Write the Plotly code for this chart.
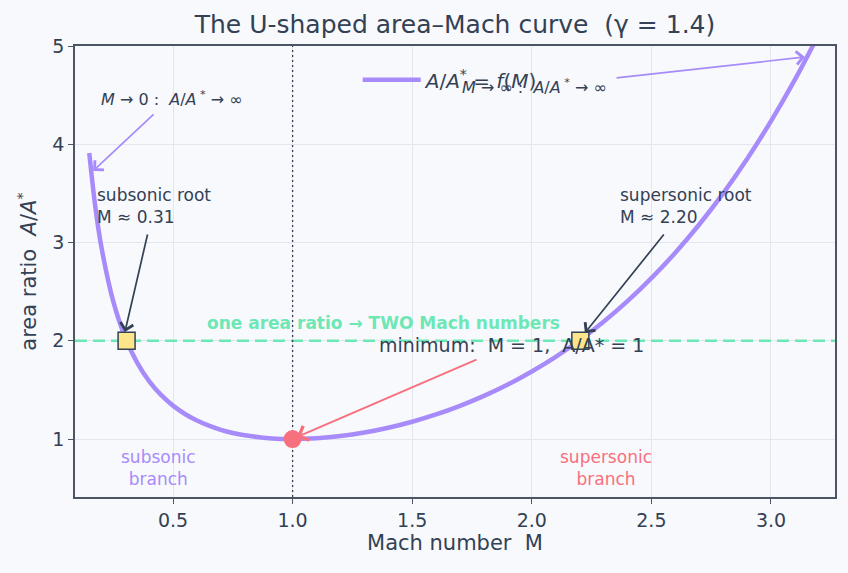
import plotly.graph_objects as go

# Mach numbers and area ratios (gamma = 1.4) read/tabulated along the curve
mach = [0.15, 0.175, 0.2, 0.25, 0.3, 0.35, 0.4, 0.45, 0.5, 0.55, 0.6, 0.65, 0.7, 0.75, 0.8, 0.9,
        1.0, 1.1, 1.2, 1.3, 1.4, 1.5, 1.6, 1.7, 1.8, 1.9, 2.0, 2.1, 2.2, 2.3, 2.4, 2.5,
        2.6, 2.7, 2.8, 2.9, 3.0, 3.1, 3.2]
area_ratio = [3.910, 3.368, 2.964, 2.403, 2.035, 1.778, 1.590, 1.449, 1.340, 1.255, 1.188, 1.136,
              1.094, 1.062, 1.038, 1.009, 1.000, 1.008, 1.030, 1.066, 1.115, 1.176, 1.250,
              1.338, 1.439, 1.555, 1.688, 1.837, 2.005, 2.193, 2.403, 2.637, 2.896, 3.183,
              3.500, 3.850, 4.235, 4.657, 5.121]

target_ratio = 2.0
roots_M = [0.306, 2.203]
min_M, min_ratio = 1.0, 1.0

x_ticks = [0.5, 1.0, 1.5, 2.0, 2.5, 3.0]
y_ticks = [1, 2, 3, 4, 5]

DARK = "#334155"
PURPLE = "#a78bfa"
GREEN = "#6ee7b7"
ROSE = "#f7707e"
BG = "#f8f9fc"
FONT = "DejaVu Sans"

xr = [0.0903, 3.2676]
yr = [0.41, 5.0]

fig = go.Figure()

# reference lines drawn as traces so they sit above the grid
fig.add_trace(go.Scatter(x=xr, y=[target_ratio] * 2, mode="lines", showlegend=False,
                         line=dict(color=GREEN, width=2.5, dash="12px,6px"), hoverinfo="skip"))
fig.add_trace(go.Scatter(x=[min_M, min_M], y=yr, mode="lines", showlegend=False,
                         line=dict(color=DARK, width=1.3, dash="2px,3px"), hoverinfo="skip"))

fig.add_trace(go.Scatter(
    x=mach, y=area_ratio, mode="lines", line=dict(color=PURPLE, width=4.5, shape="spline"),
    name="<i>A</i>/<i>A</i><sup>*</sup> = <i>f</i>(<i>M</i>)", showlegend=True))

fig.add_trace(go.Scatter(
    x=roots_M, y=[target_ratio] * 2, mode="markers",
    marker=dict(symbol="square", size=17, color="#fde68a", line=dict(color=DARK, width=1.5)),
    showlegend=False))

fig.add_trace(go.Scatter(
    x=[min_M], y=[min_ratio], mode="markers",
    marker=dict(size=18, color=ROSE), showlegend=False))


def arrow(x, y, ax, ay, color, width=1.7):
    fig.add_annotation(x=x, y=y, ax=ax, ay=ay, xref="x", yref="y", axref="x", ayref="y",
                       text="", showarrow=True, arrowhead=4, arrowsize=1.5,
                       arrowwidth=width, arrowcolor=color)


def label(x, y, text, size=13, color=DARK, xanchor="center", align="center"):
    fig.add_annotation(x=x, y=y, xref="x", yref="y", text=text, showarrow=False,
                       font=dict(family=FONT, size=size, color=color),
                       xanchor=xanchor, yanchor="middle", align=align)


arrow(0.166, 3.728, 0.425, 4.318, PURPLE)
label(0.496, 4.47, "<i>M</i> → 0 :  <i>A</i>/<i>A</i><sup> *</sup> → ∞", size=16)
arrow(3.142, 4.888, 2.348, 4.674, PURPLE)
label(2.013, 4.583, "<i>M</i> → ∞ :  <i>A</i>/<i>A</i><sup> *</sup> → ∞", size=16)

arrow(0.299, 2.089, 0.395, 3.097, DARK)
label(0.174, 3.372, "subsonic root<br>M ≈ 0.31", xanchor="left", align="left", size=17)
arrow(2.222, 2.079, 2.557, 3.097, DARK)
label(2.360, 3.372, "supersonic root<br>M ≈ 2.20", xanchor="left", align="left", size=17)

arrow(1.018, 1.020, 1.775, 1.814, ROSE, width=2.0)
label(1.917, 1.957, "minimum:  M = 1,  A/A* = 1", size=19)

label(1.378, 2.181, "<b>one area ratio → TWO Mach numbers</b>", size=17, color=GREEN)
label(0.441, 0.705, "subsonic<br>branch", size=17, color=PURPLE)
label(2.310, 0.705, "supersonic<br>branch", size=17, color=ROSE)

axis_common = dict(showline=True, linecolor="#4b5563", linewidth=1.5, mirror=True,
                   ticks="outside", ticklen=5, tickcolor="#4b5563",
                   showgrid=True, gridcolor="#e3e6ee", gridwidth=1, zeroline=False,
                   tickfont=dict(family=FONT, size=19, color=DARK))

fig.update_xaxes(range=xr, tickvals=x_ticks, ticktext=[f"{v:.1f}" for v in x_ticks],
                 title=dict(text="Mach number  M", font=dict(family=FONT, size=21, color=DARK),
                            standoff=6), **axis_common)
fig.update_yaxes(range=yr, tickvals=y_ticks, ticktext=[str(v) for v in y_ticks],
                 title=dict(text="area ratio  <i>A</i>/<i>A</i><sup>*</sup>",
                            font=dict(family=FONT, size=21, color=DARK), standoff=10),
                 **axis_common)

fig.update_layout(
    width=848, height=573,
    margin=dict(l=75, r=13, t=46, b=76),
    paper_bgcolor=BG, plot_bgcolor=BG,
    title=dict(text="The U-shaped area–Mach curve  (γ = 1.4)", x=0.5, xref="paper",
               xanchor="center", y=0.958, yanchor="middle",
               font=dict(family=FONT, size=25, color=DARK)),
    legend=dict(x=0.372, y=0.925, xanchor="left", yanchor="middle", bgcolor="rgba(0,0,0,0)",
                font=dict(family=FONT, size=20, color=DARK), itemwidth=58),
    font=dict(family=FONT, color=DARK),
)

fig.write_html("out.html")
